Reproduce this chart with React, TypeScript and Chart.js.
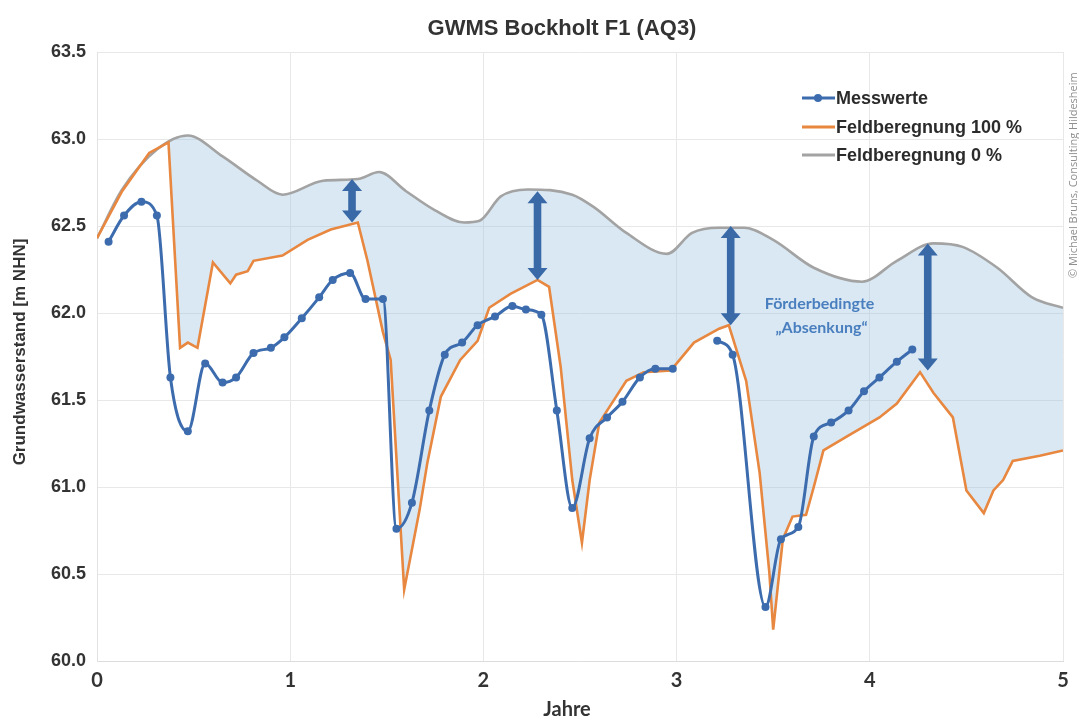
import React, { useEffect, useRef } from "react";
import { Chart, registerables } from "chart.js";

Chart.register(...registerables);

// ---------- texts ----------
const TITLE = "GWMS Bockholt F1 (AQ3)";
const Y_TITLE = "Grundwasserstand [m NHN]";
const X_TITLE = "Jahre";
const NOTE_LINES = ["Förderbedingte", "„Absenkung“"];
const WATERMARK = "© Michael Bruns, Consulting Hildesheim";
const SERIES_LABELS = ["Messwerte", "Feldberegnung 100 %", "Feldberegnung 0 %"];

// ---------- axes ----------
const Y_MIN = 60.0;
const Y_MAX = 63.5;
const Y_STEP = 0.5;
const X_MIN = 0;
const X_MAX = 5;
const X_STEP = 1;

// ---------- series: Messwerte (measured) ----------
const measX = [
  0.06, 0.14, 0.23, 0.31, 0.38, 0.47, 0.56, 0.65, 0.72, 0.81, 0.9, 0.97, 1.06, 1.15, 1.22, 1.31, 1.39, 1.48,
  1.55, 1.63, 1.72, 1.8, 1.89, 1.97, 2.06, 2.15, 2.22, 2.3, 2.38, 2.46, 2.55, 2.64, 2.72, 2.81, 2.89, 2.98,
  3.1, 3.21, 3.29, 3.46, 3.54, 3.63, 3.71, 3.8, 3.89, 3.97, 4.05, 4.14, 4.22,
];
const measY: (number | null)[] = [
  62.41, 62.56, 62.64, 62.56, 61.63, 61.32, 61.71, 61.6, 61.63, 61.77, 61.8, 61.86, 61.97, 62.09, 62.19, 62.23, 62.08, 62.08,
  60.76, 60.91, 61.44, 61.76, 61.83, 61.93, 61.98, 62.04, 62.02, 61.99, 61.44, 60.88, 61.28, 61.4, 61.49, 61.63, 61.68, 61.68,
  null, 61.84, 61.76, 60.31, 60.7, 60.77, 61.29, 61.37, 61.44, 61.55, 61.63, 61.72, 61.79,
];

// ---------- series: Feldberegnung 100 % ----------
const irr100X = [
  0, 0.13, 0.27, 0.37, 0.43, 0.47, 0.52, 0.6, 0.69, 0.72, 0.78, 0.81, 0.96, 1.09, 1.21, 1.35, 1.4, 1.48, 1.52,
  1.59, 1.67, 1.71, 1.78, 1.88, 1.97, 2.03, 2.14, 2.28, 2.34, 2.4, 2.46, 2.51, 2.55, 2.6, 2.74, 2.83, 2.97,
  3.09, 3.22, 3.27, 3.36, 3.43, 3.48, 3.5, 3.55, 3.6, 3.67, 3.71, 3.76, 3.88, 4.05, 4.14, 4.26, 4.33, 4.43,
  4.5, 4.59, 4.64, 4.69, 4.74, 4.88, 5.0,
];
const irr100Y = [
  62.43, 62.7, 62.92, 62.98, 61.8, 61.83, 61.8, 62.29, 62.17, 62.22, 62.24, 62.3, 62.33, 62.42, 62.48, 62.52, 62.3, 61.89, 61.73,
  60.41, 60.87, 61.14, 61.52, 61.73, 61.84, 62.03, 62.11, 62.19, 62.15, 61.69, 61.04, 60.68, 61.04, 61.37, 61.61, 61.66, 61.67,
  61.83, 61.91, 61.93, 61.61, 61.08, 60.51, 60.18, 60.7, 60.83, 60.84, 61.0, 61.21, 61.29, 61.4, 61.48, 61.66, 61.54, 61.4,
  60.98, 60.85, 60.98, 61.04, 61.15, 61.18, 61.21,
];

// ---------- series: Feldberegnung 0 % ----------
const irr0X = [
  0, 0.13, 0.31, 0.47, 0.65, 0.83, 0.96, 1.17, 1.35, 1.46, 1.6, 1.75, 1.9, 1.98, 2.09, 2.23, 2.46, 2.57, 2.74,
  2.95, 3.08, 3.22, 3.35, 3.5, 3.71, 3.96, 4.14, 4.33, 4.48, 4.66, 4.84, 5.0,
];
const irr0Y = [
  62.43, 62.71, 62.94, 63.02, 62.9, 62.76, 62.68, 62.76, 62.77, 62.81, 62.7, 62.59, 62.52, 62.53, 62.67, 62.71, 62.68, 62.61, 62.46,
  62.34, 62.46, 62.49, 62.49, 62.42, 62.26, 62.18, 62.3, 62.4, 62.38, 62.26, 62.09, 62.03,
];

// ---------- "Absenkung" arrows ----------
const arrowX = [1.32, 2.28, 3.28, 4.3];
const arrowTop = [62.77, 62.7, 62.5, 62.4];
const arrowBottom = [62.52, 62.19, 61.93, 61.67];

// ---------- note anchor (data coordinates) ----------
const noteX = [3.74, 3.75];
const noteY = [62.05, 61.915];

// ---------- styles ----------
const BLUE = "#3c6cae";
const ORANGE = "#e8873f";
const GRAY = "#a3a3a3";
const FILL = "rgba(150,190,222,0.36)";
const ARROW = "#3a69a8";
const NOTE = "#4a7fbf";
const TEXT = "#2b2b2b";
const GRID = "#e8e8e8";

const toPoints = (xs: number[], ys: (number | null)[]) => xs.map((x, i) => ({ x, y: ys[i] }));

const overlayPlugin = {
  id: "overlay",
  afterDraw(chart: any) {
    const { ctx, scales } = chart;
    const xs = scales.x;
    const ys = scales.y;
    ctx.save();

    // arrows
    ctx.fillStyle = ARROW;
    arrowX.forEach((ax, i) => {
      const px = xs.getPixelForValue(ax);
      const top = ys.getPixelForValue(arrowTop[i]);
      const bot = ys.getPixelForValue(arrowBottom[i]);
      const hw = 10;
      const hl = 12;
      const sw = 3.8;
      ctx.beginPath();
      ctx.moveTo(px, top);
      ctx.lineTo(px + hw, top + hl);
      ctx.lineTo(px + sw, top + hl);
      ctx.lineTo(px + sw, bot - hl);
      ctx.lineTo(px + hw, bot - hl);
      ctx.lineTo(px, bot);
      ctx.lineTo(px - hw, bot - hl);
      ctx.lineTo(px - sw, bot - hl);
      ctx.lineTo(px - sw, top + hl);
      ctx.lineTo(px - hw, top + hl);
      ctx.closePath();
      ctx.fill();
    });

    // note text
    ctx.fillStyle = NOTE;
    ctx.font = "bold 16px Lato";
    ctx.textAlign = "center";
    ctx.textBaseline = "middle";
    NOTE_LINES.forEach((t, i) => {
      ctx.fillText(t, xs.getPixelForValue(noteX[i]), ys.getPixelForValue(noteY[i]));
    });

    // title
    ctx.fillStyle = "#333333";
    ctx.font = "bold 22px 'Liberation Sans', Arial, sans-serif";
    ctx.textAlign = "center";
    ctx.textBaseline = "middle";
    ctx.fillText(TITLE, 562, 29);

    // x axis title
    ctx.font = "bold 20px Lato";
    ctx.fillText(X_TITLE, 567, 710);

    // y axis title
    ctx.save();
    ctx.translate(20, 352);
    ctx.rotate(-Math.PI / 2);
    ctx.font = "bold 17px 'Liberation Sans', Arial, sans-serif";
    ctx.fillText(Y_TITLE, 0, 0);
    ctx.restore();

    // legend
    const rows = [98, 127, 155];
    chart.data.datasets.forEach((ds: any, i: number) => {
      const yy = rows[i];
      ctx.strokeStyle = ds.borderColor;
      ctx.lineWidth = 3;
      ctx.beginPath();
      ctx.moveTo(802, yy);
      ctx.lineTo(835, yy);
      ctx.stroke();
      if (ds.pointRadius > 0) {
        ctx.fillStyle = ds.borderColor;
        ctx.beginPath();
        ctx.arc(818, yy, 4, 0, Math.PI * 2);
        ctx.fill();
      }
      ctx.fillStyle = TEXT;
      ctx.font = "bold 18px 'Liberation Sans', Arial, sans-serif";
      ctx.textAlign = "left";
      ctx.textBaseline = "middle";
      ctx.fillText(ds.label, 836, yy + 1);
    });

    // watermark
    ctx.save();
    ctx.translate(1074, 278);
    ctx.rotate(-Math.PI / 2);
    ctx.fillStyle = "#8f8f8f";
    ctx.font = "11px 'Open Sans'";
    ctx.textAlign = "left";
    ctx.textBaseline = "middle";
    ctx.fillText(WATERMARK, 0, 0);
    ctx.restore();

    ctx.restore();
  },
};

export default function App() {
  const ref = useRef<HTMLCanvasElement | null>(null);

  useEffect(() => {
    if (!ref.current) return;
    const chart = new Chart(ref.current, {
      type: "line",
      data: {
        datasets: [
          {
            label: SERIES_LABELS[0],
            data: toPoints(measX, measY),
            borderColor: BLUE,
            backgroundColor: BLUE,
            borderWidth: 3,
            pointRadius: 4,
            pointBackgroundColor: BLUE,
            pointBorderWidth: 0,
            cubicInterpolationMode: "monotone",
            spanGaps: false,
            fill: false,
          },
          {
            label: SERIES_LABELS[1],
            data: toPoints(irr100X, irr100Y),
            borderColor: ORANGE,
            backgroundColor: ORANGE,
            borderWidth: 2.6,
            pointRadius: 0,
            tension: 0,
            fill: false,
          },
          {
            label: SERIES_LABELS[2],
            data: toPoints(irr0X, irr0Y),
            borderColor: GRAY,
            backgroundColor: FILL,
            borderWidth: 2.6,
            pointRadius: 0,
            cubicInterpolationMode: "monotone",
            fill: { target: 1 },
          },
        ],
      },
      options: {
        responsive: false,
        animation: false,
        layout: { padding: { left: 0, right: 16, top: 52, bottom: 0 } },
        plugins: {
          legend: { display: false },
          tooltip: { enabled: false },
          title: { display: false },
        },
        scales: {
          x: {
            type: "linear",
            min: X_MIN,
            max: X_MAX,
            ticks: {
              stepSize: X_STEP,
              color: "#333333",
              font: { family: "Lato", weight: "bold", size: 20 },
              padding: 8,
            },
            grid: { color: GRID, drawTicks: false },
            border: { color: "#dcdcdc" },
            afterFit: (s: any) => {
              s.height = 62;
            },
          },
          y: {
            type: "linear",
            min: Y_MIN,
            max: Y_MAX,
            ticks: {
              stepSize: Y_STEP,
              color: "#333333",
              font: { family: "'Liberation Sans', Arial, sans-serif", weight: "bold", size: 18 },
              padding: 11,
              callback: (v: any) => Number(v).toFixed(1),
            },
            grid: { color: GRID, drawTicks: false },
            border: { color: "#e2e2e2" },
            afterFit: (s: any) => {
              s.width = 97;
            },
          },
        },
      },
      plugins: [overlayPlugin],
    } as any);
    return () => chart.destroy();
  }, []);

  return (
    <div style={{ position: "fixed", left: 0, top: 0, width: 1079, height: 723, background: "#ffffff" }}>
      <canvas ref={ref} width={1079} height={723} style={{ display: "block" }} />
    </div>
  );
}
